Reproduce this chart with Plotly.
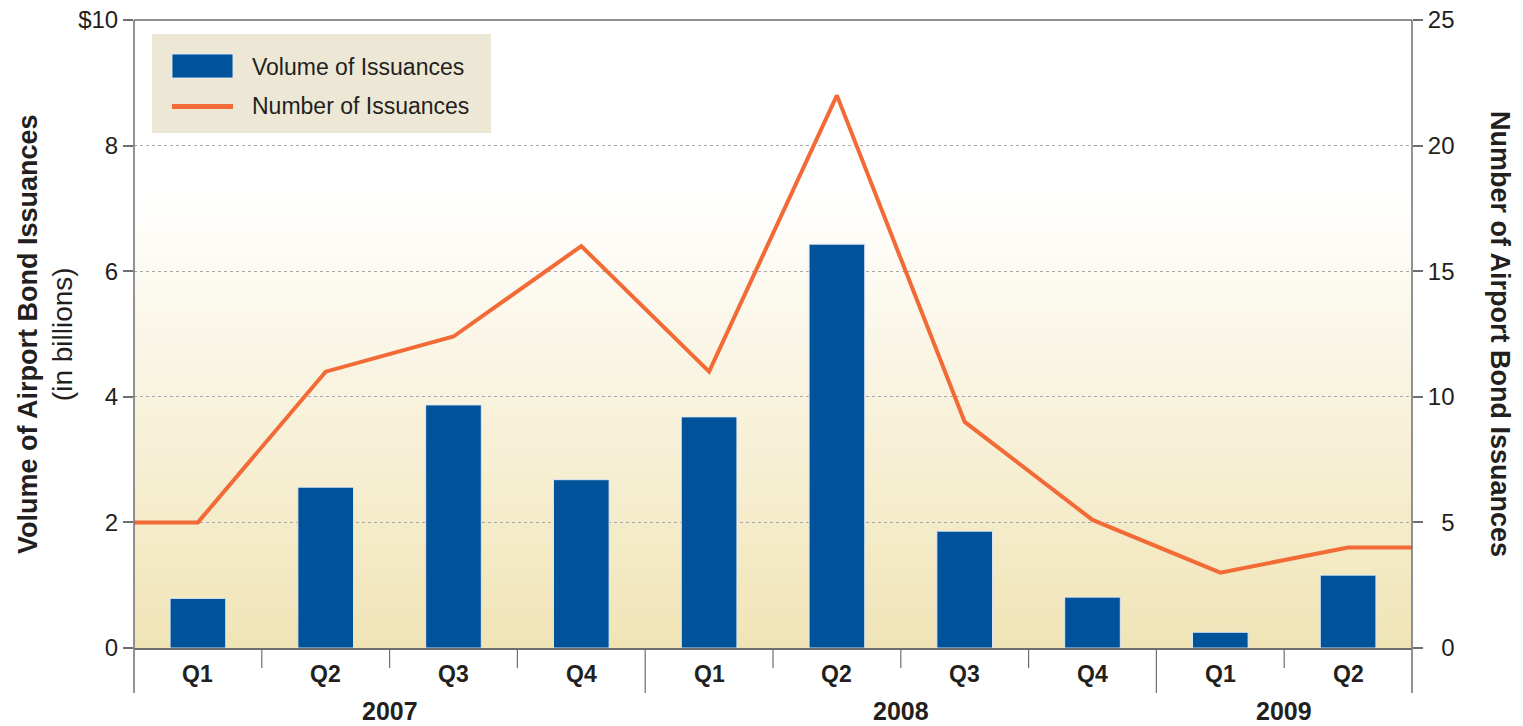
import plotly.graph_objects as go

# ---- data ----
quarters = ["Q1", "Q2", "Q3", "Q4", "Q1", "Q2", "Q3", "Q4", "Q1", "Q2"]
years = ["2007", "2007", "2007", "2007", "2008", "2008", "2008", "2008", "2009", "2009"]
volume_billions = [0.79, 2.56, 3.87, 2.68, 3.68, 6.43, 1.86, 0.81, 0.25, 1.16]
number_issuances = [5, 11, 12.4, 16, 11, 22, 9, 5.1, 3, 4]
left_ticks = [0, 2, 4, 6, 8, 10]
left_ticktext = ["0", "2", "4", "6", "8", "$10"]
right_ticks = [0, 5, 10, 15, 20, 25]

# ---- layout constants (body margin removed via post_script) ----
OFF = 0
W, H = 1523, 726
ML, MT = 134, 20
PW, PH = 1278, 628
MR = W - ML - PW
MB = H - MT - PH
FONT = "Liberation Sans, Arial, Helvetica, sans-serif"
TXT = "#231F20"
AX = "#6D6E71"
BLUE = "#00539B"
ORANGE = "#F26A36"


def fx(px):
    """page pixel x -> paper fraction"""
    return (px - OFF - ML) / PW


def fy(py):
    """page pixel y -> paper fraction"""
    return (OFF + MT + PH - py) / PH


n = len(quarters)
xs = list(range(n))

fig = go.Figure()

fig.add_trace(go.Bar(
    x=xs, y=volume_billions, width=0.435, name="Volume of Issuances",
    marker=dict(color=BLUE, line=dict(color="rgba(225,235,245,0.9)", width=1)),
    yaxis="y", showlegend=False, hoverinfo="y",
))

# line extends flat to the plot edges
line_x = [-0.5] + xs + [n - 0.5]
line_y = [number_issuances[0]] + number_issuances + [number_issuances[-1]]
fig.add_trace(go.Scatter(
    x=line_x, y=line_y, mode="lines", name="Number of Issuances",
    line=dict(color=ORANGE, width=4), yaxis="y2", showlegend=False,
))

shapes = []
# background gradient (white at top -> tan at bottom)
top_px, bot_px = 190, 648
c0 = (255, 255, 255)
c1 = (240, 228, 182)
steps = 60
for i in range(steps):
    a = top_px + (bot_px - top_px) * i / steps
    b = top_px + (bot_px - top_px) * (i + 1) / steps
    t = (i + 0.5) / steps
    col = tuple(round(c0[k] + (c1[k] - c0[k]) * t) for k in range(3))
    shapes.append(dict(type="rect", xref="paper", yref="paper", x0=0, x1=1,
                       y0=max(fy(b) - 0.001, 0), y1=fy(a), layer="below",
                       fillcolor="rgb(%d,%d,%d)" % col, line=dict(width=0)))

# top border
shapes.append(dict(type="line", xref="paper", yref="paper", x0=0, x1=1, y0=1, y1=1,
                   line=dict(color=AX, width=1.5)))
# left/right axis lines extending below plot
long_y = -45 / PH
short_y = -20 / PH
for xp in [0, 1]:
    shapes.append(dict(type="line", xref="paper", yref="paper", x0=xp, x1=xp,
                       y0=long_y, y1=1, line=dict(color=AX, width=1.5)))
# category separators
for i in range(1, n):
    is_year = years[i] != years[i - 1]
    shapes.append(dict(type="line", xref="x", yref="paper", x0=i - 0.5, x1=i - 0.5,
                       y0=long_y if is_year else short_y, y1=0,
                       line=dict(color=AX, width=1.2)))

# legend box
shapes.append(dict(type="rect", xref="paper", yref="paper", x0=fx(152), x1=fx(491),
                   y0=fy(133), y1=fy(34), fillcolor="#EDE8D5", line=dict(width=0)))
shapes.append(dict(type="rect", xref="paper", yref="paper", x0=fx(172), x1=fx(233),
                   y0=fy(78), y1=fy(54), fillcolor=BLUE,
                   line=dict(color="rgba(225,235,245,0.9)", width=1)))
shapes.append(dict(type="line", xref="paper", yref="paper", x0=fx(172), x1=fx(233),
                   y0=fy(106.5), y1=fy(106.5), line=dict(color=ORANGE, width=5)))

annotations = []
annotations.append(dict(xref="paper", yref="paper", x=fx(250), y=fy(67), xanchor="left",
                        yanchor="middle", showarrow=False, text="Volume of Issuances",
                        font=dict(family=FONT, size=23, color=TXT)))
annotations.append(dict(xref="paper", yref="paper", x=fx(250), y=fy(106), xanchor="left",
                        yanchor="middle", showarrow=False, text="Number of Issuances",
                        font=dict(family=FONT, size=23, color=TXT)))

# quarter labels
for i, q in enumerate(quarters):
    annotations.append(dict(xref="x", yref="paper", x=i, y=0, yshift=-26,
                            xanchor="center", yanchor="middle", showarrow=False,
                            text="<b>%s</b>" % q, font=dict(family=FONT, size=23, color=TXT)))
# year labels
seen = []
for y in years:
    if y not in seen:
        seen.append(y)
for y in seen:
    idx = [i for i, v in enumerate(years) if v == y]
    annotations.append(dict(xref="x", yref="paper", x=sum(idx) / len(idx), y=0, yshift=-63,
                            xanchor="center", yanchor="middle", showarrow=False,
                            text="<b>%s</b>" % y, font=dict(family=FONT, size=25, color=TXT)))

# axis titles
annotations.append(dict(xref="paper", yref="paper", x=0, y=0.5, xshift=-89,
                        xanchor="center", yanchor="middle", textangle=-90, showarrow=False,
                        text="<b>Volume of Airport Bond Issuances</b><br><span style='font-size:28px'>(in billions)</span>",
                        font=dict(family=FONT, size=27, color=TXT)))
annotations.append(dict(xref="paper", yref="paper", x=1, y=0.5, xshift=88,
                        xanchor="center", yanchor="middle", textangle=90, showarrow=False,
                        text="<b>Number of Airport Bond Issuances</b>",
                        font=dict(family=FONT, size=27, color=TXT)))

right_ticktext = [("\u2007" + str(v)) if v < 10 else str(v) for v in right_ticks]

fig.update_layout(
    width=W, height=H, autosize=False,
    margin=dict(l=ML, r=MR, t=MT, b=MB, pad=0, autoexpand=False),
    paper_bgcolor="white", plot_bgcolor="white",
    font=dict(family=FONT, color=TXT),
    showlegend=False,
    xaxis=dict(range=[-0.5, n - 0.5], showticklabels=False, ticks="", showgrid=False,
               zeroline=False, showline=True, linecolor=AX, linewidth=1.5,
               fixedrange=True, automargin=False),
    yaxis=dict(range=[0, 10], tickvals=left_ticks, ticktext=left_ticktext,
               ticks="outside", ticklen=10, tickcolor=AX, tickwidth=1.5,
               tickfont=dict(family=FONT, size=24, color=TXT),
               ticklabeloverflow="allow", automargin=False,
               showgrid=True, gridcolor="#A7A9AC", griddash="dot", gridwidth=1,
               zeroline=False, showline=False),
    yaxis2=dict(range=[0, 25], tickvals=right_ticks, ticktext=right_ticktext,
                overlaying="y", side="right", anchor="x",
                ticks="outside", ticklen=10, tickcolor=AX, tickwidth=1.5,
                tickfont=dict(family=FONT, size=24, color=TXT),
                ticklabeloverflow="allow", automargin=False,
                showgrid=False, zeroline=False, showline=False),
    shapes=shapes,
    annotations=annotations,
)

fig.write_html("out.html",
               config={"displayModeBar": False},
               post_script="document.body.style.margin='0px';document.body.style.overflow='hidden';")
